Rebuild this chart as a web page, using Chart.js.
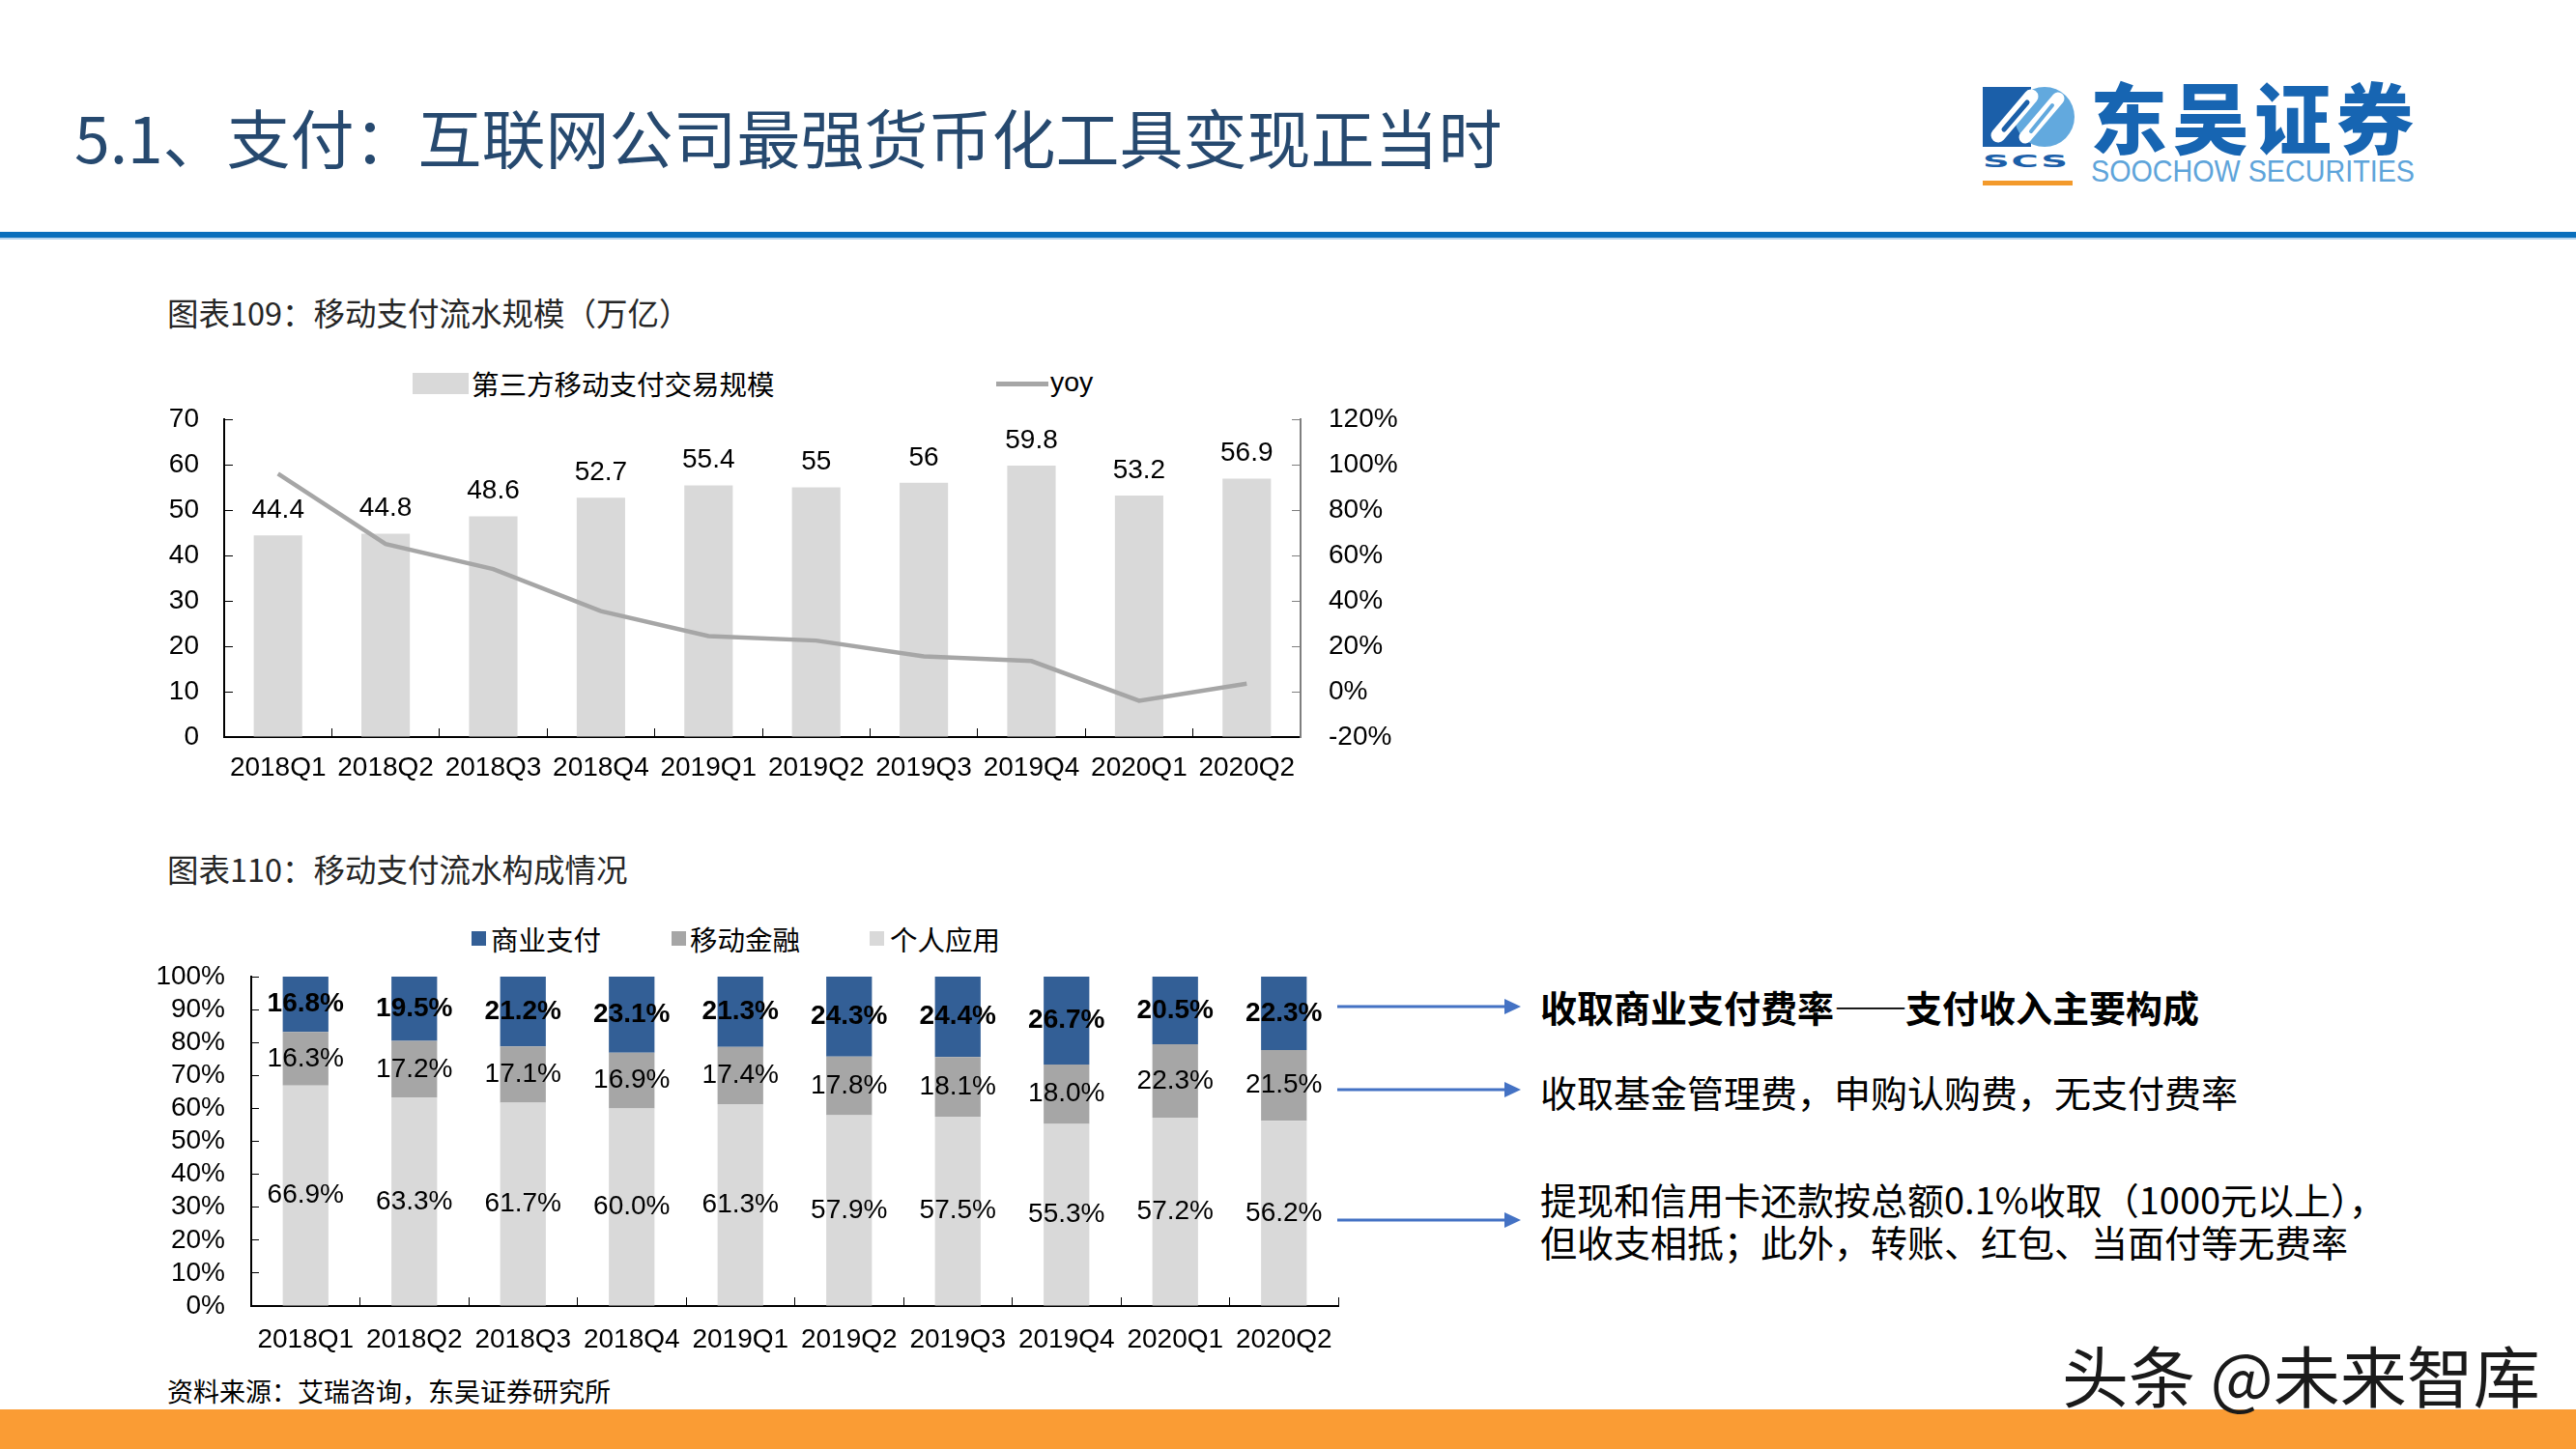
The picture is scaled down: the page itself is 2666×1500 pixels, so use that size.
<!DOCTYPE html>
<html lang="zh-CN">
<head>
<meta charset="utf-8">
<title>5.1 支付</title>
<script src="https://cdn.jsdelivr.net/npm/chart.js@4.4.1/dist/chart.umd.min.js"></script>
<style>
  html, body { margin: 0; padding: 0; background: #fff; }
  body {
    width: 2666px; height: 1500px; position: relative; overflow: hidden;
    font-family: "Noto Sans CJK SC", "Liberation Sans", sans-serif; color: #000;
  }
  .abs { position: absolute; white-space: nowrap; }
  .page-title { left: 77px; top: 102px; font-size: 66px; line-height: 76px; color: #26496f; }
  .rule { left: 0; top: 240px; width: 2666px; height: 6px; background: #0b6fbc; }
  .rule2 { left: 0; top: 246px; width: 2666px; height: 2px; background: #b7d4ee; }
  .footer { left: 0; top: 1459px; width: 2666px; height: 41px; background: #fa9c34; }
  .fig-title { left: 173px; font-size: 32.5px; line-height: 40px; color: #262626; }
  .legend-text { font-size: 28.5px; line-height: 36px; }
  .num { font-family: "Liberation Sans", Arial, sans-serif; }
  .note { left: 1594px; font-size: 38px; line-height: 48px; }
  .src { left: 173px; top: 1422px; font-size: 27px; line-height: 36px; }
  .wm { left: 2134px; top: 1384px; font-size: 69px; line-height: 76px; color: #1a1a1a; }
  .chart-box { position: absolute; }
  .logo-cn { left: 2163px; top: 76px; font-size: 80px; line-height: 84px; font-weight: 900; color: #1765b2; letter-spacing: 5px; }
  .logo-en { left: 2164px; top: 162px; font-size: 29px; line-height: 30px; color: #5ea4da; font-family: "Liberation Sans", Arial, sans-serif;
    transform: scale(0.99, 1.05); transform-origin: left top; }
  .logo-scs { left: 2052px; top: 158px; font-size: 22px; line-height: 24px; font-weight: 900; color: #1b5fa9;
    font-family: "DejaVu Sans", sans-serif; transform: scale(1.75, 0.8); transform-origin: left top; letter-spacing: 1px; }
  .logo-bar { left: 2052px; top: 187px; width: 93px; height: 5px; background: #f39a2b; }
</style>
</head>
<body>

<div class="abs page-title">5.1、支付：互联网公司最强货币化工具变现正当时</div>

<!-- logo -->
<svg class="abs" style="left:2050px;top:88px" width="100" height="66" viewBox="0 0 100 66">
  <rect x="2" y="2" width="50" height="62" fill="#1b5fa9"/>
  <circle cx="66" cy="33" r="31" fill="#62a9de"/>
  <line x1="18" y1="52" x2="52" y2="12" stroke="#fff" stroke-width="15" stroke-linecap="round"/>
  <line x1="24" y1="46" x2="48" y2="18" stroke="#1b5fa9" stroke-width="5" stroke-linecap="round"/>
  <line x1="46" y1="54" x2="80" y2="14" stroke="#fff" stroke-width="13" stroke-linecap="round"/>
  <line x1="52" y1="48" x2="74" y2="21" stroke="#62a9de" stroke-width="4" stroke-linecap="round"/>
</svg>
<div class="abs logo-scs">SCS</div>
<div class="abs logo-bar"></div>
<div class="abs logo-cn">东吴证券</div>
<div class="abs logo-en">SOOCHOW SECURITIES</div>

<div class="abs rule"></div>
<div class="abs rule2"></div>

<!-- figure 109 -->
<div class="abs fig-title" style="top:303px">图表109：移动支付流水规模（万亿）</div>
<div class="abs" style="left:427px;top:386px;width:58px;height:22px;background:#d9d9d9"></div>
<div class="abs legend-text" style="left:488px;top:379px">第三方移动支付交易规模</div>
<div class="abs" style="left:1031px;top:395px;width:54px;height:5px;background:#a6a6a6"></div>
<div class="abs legend-text num" style="left:1087px;top:377px">yoy</div>
<div class="chart-box" style="left:120px;top:400px;width:1380px;height:420px">
  <canvas id="chart-scale" width="1380" height="420"></canvas>
</div>

<!-- figure 110 -->
<div class="abs fig-title" style="top:879px">图表110：移动支付流水构成情况</div>
<div class="abs" style="left:488px;top:964px;width:15px;height:15px;background:#335f96"></div>
<div class="abs legend-text" style="left:508px;top:954px">商业支付</div>
<div class="abs" style="left:695px;top:964px;width:15px;height:15px;background:#a6a6a6"></div>
<div class="abs legend-text" style="left:714px;top:954px">移动金融</div>
<div class="abs" style="left:900px;top:964px;width:15px;height:15px;background:#d9d9d9"></div>
<div class="abs legend-text" style="left:921px;top:954px">个人应用</div>
<div class="chart-box" style="left:130px;top:980px;width:1300px;height:430px">
  <canvas id="chart-mix" width="1300" height="430"></canvas>
</div>

<!-- annotations -->
<svg class="abs" style="left:1380px;top:1020px" width="200" height="260">
  <g stroke="#4472c4" stroke-width="3" fill="#4472c4">
    <line x1="4" y1="22" x2="180" y2="22"/>
    <polygon points="177,14 194,22 177,30" stroke="none"/>
    <line x1="4" y1="108" x2="180" y2="108"/>
    <polygon points="177,100 194,108 177,116" stroke="none"/>
    <line x1="4" y1="243" x2="180" y2="243"/>
    <polygon points="177,235 194,243 177,251" stroke="none"/>
  </g>
</svg>
<div class="abs note" style="top:1018px;font-weight:bold">收取商业支付费率<span style="letter-spacing:-2px">——</span>支付收入主要构成</div>
<div class="abs note" style="top:1106px">收取基金管理费，申购认购费，无支付费率</div>
<div class="abs note" style="top:1219px;line-height:44px">提现和信用卡还款按总额0.1%收取（1000元以上），<br>但收支相抵；此外，转账、红包、当面付等无费率</div>

<div class="abs src">资料来源：艾瑞咨询，东吴证券研究所</div>
<div class="abs footer"></div>
<div class="abs wm">头条 @未来智库</div>

<script>
// --- data ---
const QUARTERS = ["2018Q1", "2018Q2", "2018Q3", "2018Q4", "2019Q1", "2019Q2", "2019Q3", "2019Q4", "2020Q1", "2020Q2"];

// 图表109 (万亿) and yoy (%)
const VOLUME = [44.4, 44.8, 48.6, 52.7, 55.4, 55, 56, 59.8, 53.2, 56.9];
const YOY = [96, 65, 54, 35.5, 24.5, 22.5, 15.5, 13.5, -4, 3.5];

// 图表110 (%)
const BIZ_PAY = [16.8, 19.5, 21.2, 23.1, 21.3, 24.3, 24.4, 26.7, 20.5, 22.3];
const MOBILE_FIN = [16.3, 17.2, 17.1, 16.9, 17.4, 17.8, 18.1, 18.0, 22.3, 21.5];
const PERSONAL = [66.9, 63.3, 61.7, 60.0, 61.3, 57.9, 57.5, 55.3, 57.2, 56.2];

const NUM_FONT = "'Liberation Sans', Arial, sans-serif";
Chart.defaults.font.family = NUM_FONT;
Chart.defaults.font.size = 28;
Chart.defaults.color = "#000";

// fixed axis box size, no extra overflow padding from tick labels
const fixBox = (w, h) => (s) => {
  if (w != null) s.width = w;
  if (h != null) s.height = h;
  s.paddingTop = 0; s.paddingBottom = 0; s.paddingLeft = 0; s.paddingRight = 0;
};

// value labels, drawn on the bar elements the library laid out
const barLabels = {
  id: "barLabels",
  afterDatasetsDraw(chart, args, opts) {
    const ctx = chart.ctx;
    ctx.save();
    ctx.textAlign = "center";
    ctx.textBaseline = "middle";
    ctx.fillStyle = "#000";
    chart.data.datasets.forEach((ds, i) => {
      if (ds.type === "line") return;
      const meta = chart.getDatasetMeta(i);
      ctx.font = (ds.label === opts.boldLabel ? "bold " : "") + "28px " + NUM_FONT;
      meta.data.forEach((bar, j) => {
        const v = ds.data[j];
        const txt = opts.pct ? v.toFixed(1) + "%" : String(v);
        const y = opts.above ? bar.y - 26 : (bar.y + bar.base) / 2;
        ctx.fillText(txt, bar.x, y);
      });
    });
    ctx.restore();
  }
};

// --- 图表109: bars + yoy line ---
function renderScaleChart() {
  const ctx = document.getElementById("chart-scale").getContext("2d");
  new Chart(ctx, {
    type: "bar",
    data: {
      labels: QUARTERS,
      datasets: [
        {
          type: "line", label: "yoy", data: YOY, yAxisID: "y1",
          borderColor: "#a6a6a6", backgroundColor: "#a6a6a6", borderWidth: 4.5,
          pointRadius: 0, tension: 0, order: 1
        },
        {
          type: "bar", label: "第三方移动支付交易规模", data: VOLUME, yAxisID: "y",
          backgroundColor: "#d9d9d9", borderWidth: 0,
          barPercentage: 0.45, categoryPercentage: 1, order: 2
        }
      ]
    },
    options: {
      responsive: false, animation: false,
      layout: { padding: { top: 34, right: 0, bottom: 0, left: 0 } },
      scales: {
        x: {
          grid: { drawOnChartArea: false, tickLength: -9, color: "#000", offset: true },
          border: { color: "#000", width: 2 },
          ticks: { padding: 24, autoSkip: false, maxRotation: 0 },
          afterFit: fixBox(null, 57)
        },
        y: {
          position: "left", min: 0, max: 70,
          grid: { drawOnChartArea: false, tickLength: -9, color: "#000" },
          border: { color: "#000", width: 2 },
          ticks: { stepSize: 10, padding: 35, autoSkip: false },
          afterFit: fixBox(112, null)
        },
        y1: {
          position: "right", min: -20, max: 120,
          grid: { drawOnChartArea: false, tickLength: -9, color: "#7f7f7f" },
          border: { color: "#7f7f7f", width: 2 },
          ticks: { stepSize: 20, padding: 38, autoSkip: false, callback: (v) => v + "%" },
          afterFit: fixBox(154, null)
        }
      },
      plugins: {
        legend: { display: false },
        tooltip: { enabled: false },
        barLabels: { above: true, pct: false }
      }
    },
    plugins: [barLabels]
  });
}

// --- 图表110: 100% stacked ---
function renderMixChart() {
  const ctx = document.getElementById("chart-mix").getContext("2d");
  const bar = { borderWidth: 0, barPercentage: 0.42, categoryPercentage: 1 };
  new Chart(ctx, {
    type: "bar",
    data: {
      labels: QUARTERS,
      datasets: [
        { label: "个人应用", data: PERSONAL, backgroundColor: "#d9d9d9", ...bar },
        { label: "移动金融", data: MOBILE_FIN, backgroundColor: "#a6a6a6", ...bar },
        { label: "商业支付", data: BIZ_PAY, backgroundColor: "#335f96", ...bar }
      ]
    },
    options: {
      responsive: false, animation: false,
      layout: { padding: { top: 31, right: 45, bottom: 0, left: 0 } },
      scales: {
        x: {
          stacked: true,
          grid: { drawOnChartArea: false, tickLength: -9, color: "#000", offset: true },
          border: { color: "#000", width: 2 },
          ticks: { padding: 27, autoSkip: false, maxRotation: 0 },
          afterFit: fixBox(null, 58)
        },
        y: {
          stacked: true, min: 0, max: 100,
          grid: { drawOnChartArea: false, tickLength: -8, color: "#000" },
          border: { color: "#000", width: 2 },
          ticks: { stepSize: 10, padding: 35, autoSkip: false, callback: (v) => v + "%" },
          afterFit: fixBox(130, null)
        }
      },
      plugins: {
        legend: { display: false },
        tooltip: { enabled: false },
        barLabels: { above: false, pct: true, boldLabel: "商业支付" }
      }
    },
    plugins: [barLabels]
  });
}

renderScaleChart();
renderMixChart();
</script>
</body>
</html>
